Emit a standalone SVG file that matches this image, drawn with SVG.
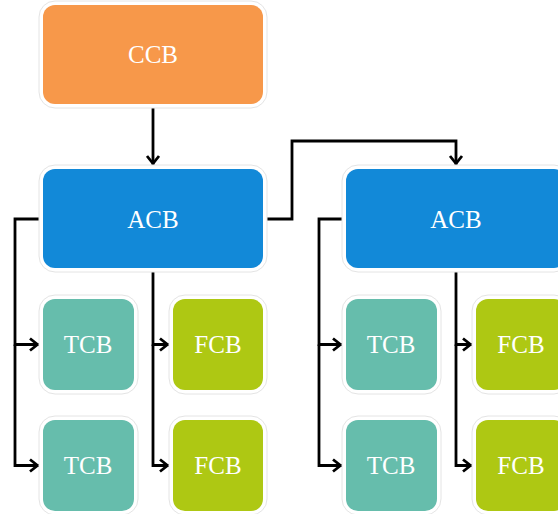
<svg xmlns="http://www.w3.org/2000/svg" width="558" height="514" viewBox="0 0 558 514">
  <defs>
    <style>
      .frame { fill: #ffffff; stroke: #e4e4e4; stroke-width: 1; }
      .ccb { fill: #f7984a; }
      .acb { fill: #1289d8; }
      .tcb { fill: #66bdac; }
      .fcb { fill: #aec813; }
      .label { fill: #ffffff; font-family: "Liberation Serif", "Times New Roman", serif; font-size: 25px; text-anchor: middle; }
      .link { fill: none; stroke: #000000; stroke-width: 2.8; stroke-linejoin: miter; }
    </style>
    <marker id="arrow" markerUnits="userSpaceOnUse" viewBox="-12 -8 14 16" markerWidth="14" markerHeight="16" refX="0" refY="0" orient="auto">
      <path d="M-9,-6 L-1.5,0 L-9,6" fill="none" stroke="#000000" stroke-width="2.8"/>
    </marker>
  </defs>
  <rect width="558" height="514" fill="#ffffff"/>

  <g id="connectors">
    <path class="link" d="M153,108 V165" marker-end="url(#arrow)"/>
    <path class="link" d="M267,219 H292 V141 H456 V165" marker-end="url(#arrow)"/>
    <!-- left cluster -->
    <path class="link" d="M39,219 H15 V344.5 H39" marker-end="url(#arrow)"/>
    <path class="link" d="M15,344.5 V465.5 H39" marker-end="url(#arrow)"/>
    <path class="link" d="M153,272 V344.5 H169" marker-end="url(#arrow)"/>
    <path class="link" d="M153,344.5 V465.5 H169" marker-end="url(#arrow)"/>
    <!-- right cluster -->
    <path class="link" d="M342,219 H319 V344.5 H342" marker-end="url(#arrow)"/>
    <path class="link" d="M319,344.5 V465.5 H342" marker-end="url(#arrow)"/>
    <path class="link" d="M456,272 V344.5 H472" marker-end="url(#arrow)"/>
    <path class="link" d="M456,344.5 V465.5 H472" marker-end="url(#arrow)"/>
  </g>

  <g id="ccb">
    <rect class="frame" x="39" y="1" width="228" height="107" rx="16"/>
    <rect class="ccb" x="43" y="5" width="220" height="99" rx="12"/>
    <text class="label" x="153" y="63">CCB</text>
  </g>

  <g id="acb-1">
    <rect class="frame" x="39" y="165" width="228" height="107" rx="16"/>
    <rect class="acb" x="43" y="169" width="220" height="99" rx="12"/>
    <text class="label" x="153" y="227.5">ACB</text>
  </g>
  <g id="tcb-1a">
    <rect class="frame" x="39" y="295" width="99" height="99" rx="16"/>
    <rect class="tcb" x="43" y="299" width="91" height="91" rx="12"/>
    <text class="label" x="88" y="353">TCB</text>
  </g>
  <g id="fcb-1a">
    <rect class="frame" x="169" y="295" width="98" height="99" rx="16"/>
    <rect class="fcb" x="173" y="299" width="90" height="91" rx="12"/>
    <text class="label" x="218" y="353">FCB</text>
  </g>
  <g id="tcb-1b">
    <rect class="frame" x="39" y="416" width="99" height="99" rx="16"/>
    <rect class="tcb" x="43" y="420" width="91" height="91" rx="12"/>
    <text class="label" x="88" y="474">TCB</text>
  </g>
  <g id="fcb-1b">
    <rect class="frame" x="169" y="416" width="98" height="99" rx="16"/>
    <rect class="fcb" x="173" y="420" width="90" height="91" rx="12"/>
    <text class="label" x="218" y="474">FCB</text>
  </g>

  <g id="acb-2">
    <rect class="frame" x="342" y="165" width="228" height="107" rx="16"/>
    <rect class="acb" x="346" y="169" width="220" height="99" rx="12"/>
    <text class="label" x="456" y="227.5">ACB</text>
  </g>
  <g id="tcb-2a">
    <rect class="frame" x="342" y="295" width="99" height="99" rx="16"/>
    <rect class="tcb" x="346" y="299" width="91" height="91" rx="12"/>
    <text class="label" x="391" y="353">TCB</text>
  </g>
  <g id="fcb-2a">
    <rect class="frame" x="472" y="295" width="98" height="99" rx="16"/>
    <rect class="fcb" x="476" y="299" width="90" height="91" rx="12"/>
    <text class="label" x="521" y="353">FCB</text>
  </g>
  <g id="tcb-2b">
    <rect class="frame" x="342" y="416" width="99" height="99" rx="16"/>
    <rect class="tcb" x="346" y="420" width="91" height="91" rx="12"/>
    <text class="label" x="391" y="474">TCB</text>
  </g>
  <g id="fcb-2b">
    <rect class="frame" x="472" y="416" width="98" height="99" rx="16"/>
    <rect class="fcb" x="476" y="420" width="90" height="91" rx="12"/>
    <text class="label" x="521" y="474">FCB</text>
  </g>
</svg>
